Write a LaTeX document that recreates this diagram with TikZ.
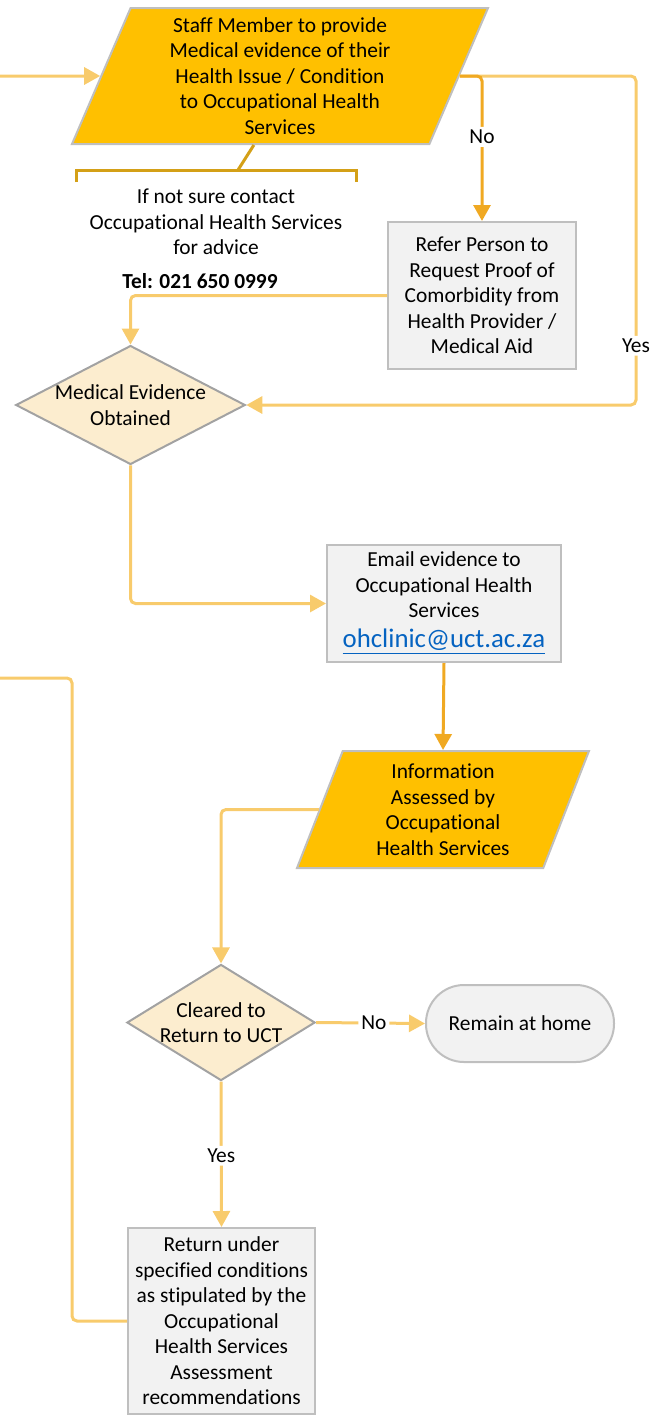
\documentclass[tikz,border=0pt]{standalone}
\usepackage{fontspec}
\setmainfont{Carlito}[Ligatures=NoCommon]
\usetikzlibrary{arrows.meta}
\usetikzlibrary{shapes.geometric}
\usetikzlibrary{calc}

\definecolor{gold}{HTML}{FFC000}
\definecolor{goldline}{HTML}{D4A017}
\definecolor{lightline}{HTML}{F8CB6C}
\definecolor{darkline}{HTML}{F0A922}
\definecolor{peach}{HTML}{FCEDCF}
\definecolor{boxgray}{HTML}{F2F2F2}
\definecolor{edgegray}{HTML}{BFBFBF}
\definecolor{linkblue}{HTML}{0563C1}

\tikzset{
  txt/.style={font=\fontsize{10.7pt}{12.75pt}\selectfont, align=center, inner sep=0pt},
  io/.style={txt, trapezium, trapezium left angle=63.4, trapezium right angle=116.6,
    trapezium stretches body, fill=gold, draw=edgegray, line width=1pt},
  decision/.style={txt, diamond, fill=peach, draw=edgegray!85!black, line width=1pt},
  process/.style={txt, rectangle, fill=boxgray, draw=edgegray, line width=1pt},
  terminal/.style={txt, rectangle, rounded corners=19pt, fill=boxgray, draw=edgegray, line width=1pt},
  flow/.style={draw=lightline, line width=1.5pt, rounded corners=2.5pt, -{Triangle[length=8pt,width=8.5pt]}},
  flowdark/.style={flow, draw=darkline},
  plain/.style={draw=lightline, line width=1.5pt, rounded corners=2.5pt},
  bracket/.style={draw=goldline, line width=1.5pt},
  lbl/.style={txt, fill=white, inner sep=1.5pt},
}

\begin{document}
\begin{tikzpicture}[x=0.5pt,y=-0.5pt]
    \useasboundingbox (0,0) rectangle (661,1415);

    \node[io, minimum width=208pt, minimum height=68pt] (staff) at (280,76)
        {Staff Member to provide\\Medical evidence of their\\Health Issue / Condition\\to Occupational Health\\Services};
    \node[txt] (advice) at (216,222) {If not sure contact\\Occupational Health Services\\for advice};
    \node[txt, font=\fontsize{10.7pt}{12.75pt}\selectfont\bfseries] (tel) at (200,281) {Tel: 021 650 0999};
    \node[process, minimum width=94pt, minimum height=73.5pt] (refer) at (482,295.5)
        {Refer Person to\\Request Proof of\\Comorbidity from\\Health Provider /\\Medical Aid};
    \node[decision, aspect=1.93, minimum width=114.5pt, minimum height=58pt] (medical) at (130.5,405)
        {Medical Evidence\\Obtained};
    \node[process, minimum width=117pt, minimum height=58.5pt] (email) at (444,603.5)
        {Email evidence to\\Occupational Health\\Services\\[2.25pt]{\fontsize{13.4pt}{15pt}\selectfont\color{linkblue}\underline{ohclinic@uct.ac.za}}};
    \node[io, minimum width=146pt, minimum height=58.5pt] (info) at (443,809.5)
        {Information\\Assessed by\\Occupational\\Health Services};
    \node[decision, aspect=1.62, minimum width=93pt, minimum height=57.5pt] (cleared) at (221,1022.5)
        {Cleared to\\Return to UCT};
    \node[terminal, minimum width=94pt, minimum height=38.5pt] (remain) at (520,1023.5) {Remain at home};
    \node[process, minimum width=93.5pt, minimum height=93pt] (return) at (221.5,1321)
        {Return under\\specified conditions\\as stipulated by the\\Occupational\\Health Services\\Assessment\\recommendations};

    \coordinate (start) at (0,76);
    \coordinate (rail) at (636,405);
    \coordinate (outleft) at (0,678);

    \draw[bracket] ($(staff.bottom left corner)!0.51!(staff.bottom right corner)$) -- (238,170);
    \draw[bracket] (76,182) -- (76,170) -- (356,170) -- (356,182);

    \draw[flow] (start) -- (staff.west);
    \draw[flow] (staff.east) -| node[lbl, pos=0.91] {Yes} (rail) -- (medical.east);
    \draw[flowdark] (staff.east) -| node[lbl, pos=0.71] {No} (refer.north);
    \draw[flow] (refer.west) -| (medical.north);
    \draw[flow] (medical.south) |- (email.west);
    \draw[flowdark] (email.south) -- (info.north);
    \draw[flow] (info.west) -| (cleared.north);
    \draw[flow] (cleared.east) -- node[lbl, pos=0.53] {No} (remain.west);
    \draw[flow] (cleared.south) -- node[lbl, pos=0.51] {Yes} (return.north);
    \draw[plain] (return.west) -| ([xshift=36pt]outleft) -- (outleft);
\end{tikzpicture}
\end{document}
